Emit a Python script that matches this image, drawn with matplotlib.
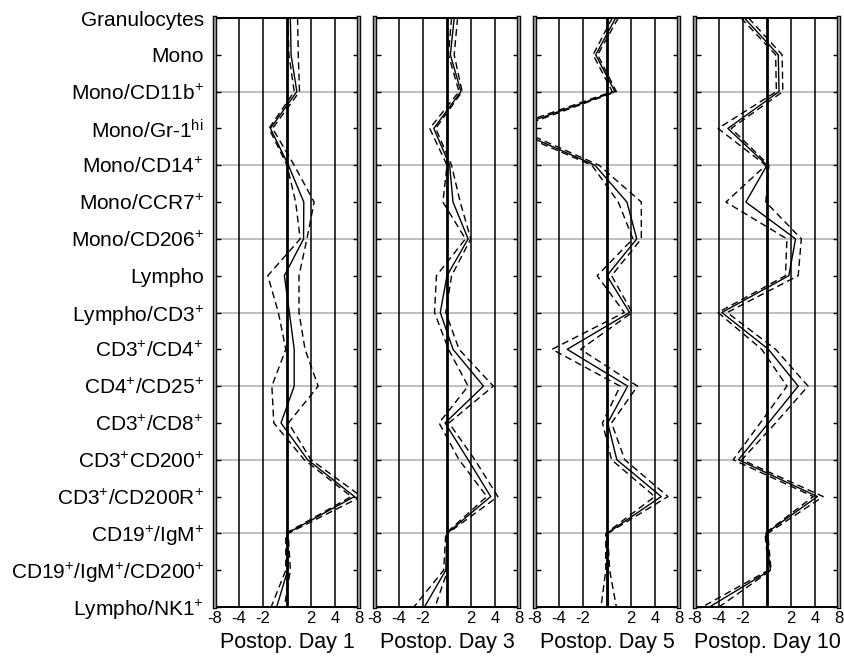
import numpy as np
import matplotlib
matplotlib.use("Agg")
import matplotlib.pyplot as plt

plt.rcParams['font.family'] = ['Liberation Sans', 'DejaVu Sans']
plt.rcParams['mathtext.fontset'] = 'custom'
plt.rcParams['mathtext.rm'] = 'Liberation Sans'
plt.rcParams['mathtext.it'] = 'Liberation Sans:italic'

# cell populations, top to bottom
populations = [
    'Granulocytes', 'Mono', r'Mono/CD11b$^{+}$', r'Mono/Gr-1$^{\mathrm{hi}}$',
    r'Mono/CD14$^{+}$', r'Mono/CCR7$^{+}$', r'Mono/CD206$^{+}$', 'Lympho',
    r'Lympho/CD3$^{+}$', r'CD3$^{+}$/CD4$^{+}$', r'CD4$^{+}$/CD25$^{+}$',
    r'CD3$^{+}$/CD8$^{+}$', r'CD3$^{+}$CD200$^{+}$', r'CD3$^{+}$/CD200R$^{+}$',
    r'CD19$^{+}$/IgM$^{+}$', r'CD19$^{+}$/IgM$^{+}$/CD200$^{+}$', r'Lympho/NK1$^{+}$',
]

days = ['Postop. Day 1', 'Postop. Day 3', 'Postop. Day 5', 'Postop. Day 10']

# log2 fold change (axis labelled as signed fold change)
fold_ticks = [-3, -2, -1, 0, 1, 2, 3]
fold_labels = ['-8', '-4', '-2', '', '2', '4', '8']

mean_d1 = [0.14, 0.17, 0.41, -0.69, 0.06, 0.70, 0.69, -0.11, 0.10, 0.30, 0.30, -0.25, 0.86, 2.81, 0.00, 0.03, -0.43]
upper_d1 = [0.44, 0.47, 0.52, -0.60, 0.30, 1.13, 0.83, 0.50, 0.50, 0.75, 1.30, 0.06, 1.00, 3.10, 0.05, 0.14, -0.11]
lower_d1 = [0.03, 0.08, 0.30, -0.75, 0.00, 0.36, 0.55, -0.80, -0.36, -0.05, -0.63, -0.55, 0.72, 2.68, -0.05, -0.05, -0.66]

mean_d3 = [0.30, 0.14, 0.58, -0.55, 0.11, 0.25, 0.88, 0.00, -0.28, 0.25, 1.52, -0.08, 0.88, 1.82, 0.00, -0.05, -0.94]
upper_d3 = [0.44, 0.30, 0.63, -0.47, 0.19, 0.55, 0.99, 0.19, -0.05, 0.50, 1.93, 0.08, 1.16, 2.12, 0.03, 0.03, -0.50]
lower_d3 = [0.19, 0.06, 0.50, -0.72, 0.00, -0.17, 0.77, -0.44, -0.52, 0.06, 0.88, -0.33, 0.50, 1.66, -0.05, -0.14, -1.38]

mean_d5 = [0.36, -0.47, 0.33, -4.00, -0.50, 0.83, 1.24, 0.00, 0.94, -1.66, 0.86, 0.03, 0.41, 2.26, 0.00, 0.03, 0.06]
upper_d5 = [0.47, -0.39, 0.39, -3.80, -0.33, 1.43, 1.43, 0.19, 1.05, -1.10, 1.27, 0.19, 0.74, 2.54, 0.03, 0.11, 0.39]
lower_d5 = [0.22, -0.58, 0.22, -4.20, -0.63, 0.47, 1.08, -0.41, 0.72, -2.29, 0.55, -0.19, 0.19, 1.99, -0.05, -0.05, -0.25]

mean_d10 = [-0.94, 0.47, 0.50, -1.63, 0.00, -0.88, 1.19, 0.91, -1.88, 0.06, 1.30, 0.06, -1.19, 2.10, -0.05, 0.14, -2.40]
upper_d10 = [-0.77, 0.63, 0.66, -1.49, 0.08, -0.05, 1.43, 1.30, -1.66, 0.36, 1.71, 0.36, -1.05, 2.34, 0.03, 0.17, -2.00]
lower_d10 = [-1.08, 0.36, 0.39, -2.04, -0.05, -1.71, 0.83, 0.77, -2.04, -0.22, 0.83, -0.28, -1.41, 1.93, -0.08, 0.06, -2.70]

means = [mean_d1, mean_d3, mean_d5, mean_d10]
uppers = [upper_d1, upper_d3, upper_d5, upper_d10]
lowers = [lower_d1, lower_d3, lower_d5, lower_d10]

W, H = 844, 659
fig = plt.figure(figsize=(W / 100, H / 100), dpi=100)

rows = np.arange(len(populations))
panel_left = [215, 375, 535, 695]

for k in range(4):
    ax = fig.add_axes([panel_left[k] / W, 52 / H, 144 / W, 589 / H])

    # grid: verticals at each fold step, thick line at zero, grey every other row
    for xv in [-2, -1, 1, 2]:
        ax.axvline(xv, color='black', lw=1.1, zorder=1)
    ax.axvline(0, color='black', lw=2.0, zorder=1)
    for r in rows[2:15:2]:
        ax.axhline(r, color='#b4b4b4', lw=1.2, zorder=0)

    ax.plot(means[k], rows, color='black', lw=1.0, zorder=3)
    ax.plot(uppers[k], rows, color='black', lw=1.0, dashes=(5, 3), zorder=3)
    ax.plot(lowers[k], rows, color='black', lw=1.0, dashes=(5, 3), zorder=3)

    ax.set_xlim(-3, 3)
    ax.set_ylim(rows[-1], rows[0])

    for side in ['left', 'right']:
        ax.spines[side].set_linewidth(3.2)
        ax.spines[side].set_color('black')
        ax.axvline(-3 if side == 'left' else 3, color='#8c8c8c', lw=1.6, zorder=5, clip_on=False)
    for side in ['top', 'bottom']:
        ax.spines[side].set_linewidth(1.4)

    ax.set_xticks(fold_ticks)
    ax.set_xticklabels(fold_labels)
    ax.tick_params(axis='x', length=0, pad=3, labelsize=12)

    ax.set_yticks(rows)
    ax.tick_params(axis='y', direction='in', length=4, width=1, left=True, right=True, pad=8)
    if k == 0:
        ax.set_yticklabels(populations, fontsize=15)
    else:
        ax.set_yticklabels([])

    ax.set_xlabel(days[k], fontsize=15.5, labelpad=4)

plt.savefig('out.png', dpi=100)
